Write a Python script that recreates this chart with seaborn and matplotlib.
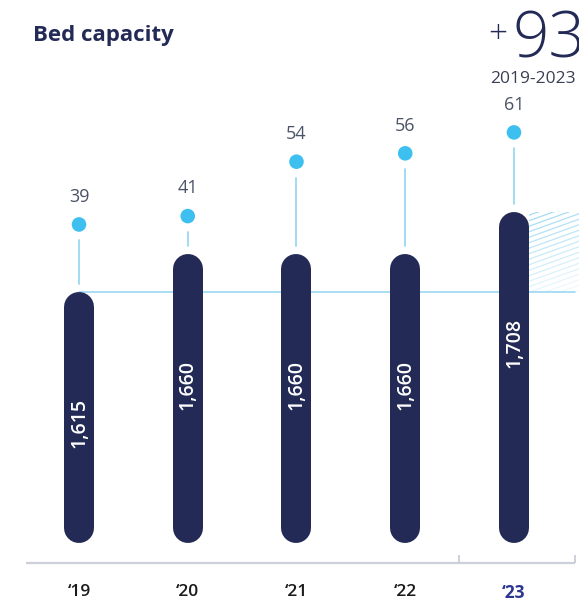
import numpy as np
import pandas as pd
import matplotlib
matplotlib.use("Agg")
import matplotlib.pyplot as plt
import seaborn as sns
from matplotlib.patches import Rectangle

# data
years = ["\u201819", "\u201820", "\u201821", "\u201822", "\u201823"]
beds = [1615, 1660, 1660, 1660, 1708]
growth = [39, 41, 54, 56, 61]
beds_label = ["1,615", "1,660", "1,660", "1,660", "1,708"]

NAVY = "#232a55"
BLUE = "#3dbfef"
LIGHT = "#9ad8f2"

sns.set_theme(style="white")
plt.rcParams["font.family"] = ["Open Sans", "DejaVu Sans"]

W, H = 579, 605
fig = plt.figure(figsize=(W / 100, H / 100), dpi=100)
ax = fig.add_axes([23 / W, (H - 563) / H, 556 / W, 563 / H])

df = pd.DataFrame({"year": years, "beds": beds, "growth": growth})
base = 1323
sns.barplot(data=df, x="year", y=np.array(beds) - base, bottom=base, ax=ax,
            color=NAVY, width=0.276, saturation=1, order=years)

ax.set_xlim(-0.515, 4.598)
ax.set_ylim(1300, 1955)

# turn the bars into pills (round caps)
px_x = 108.75
px_y = 563 / (1955 - 1300)
r = 15 / px_y
for p in list(ax.patches):
    xc = p.get_x() + p.get_width() / 2
    y0, y1 = p.get_y(), p.get_y() + p.get_height()
    p.remove()
    ax.plot([xc, xc], [y0 + r, y1 - r], color=NAVY, lw=30 * 0.72,
            solid_capstyle="round", zorder=3)

# values inside bars
for i, (v, lab) in enumerate(zip(beds, beds_label)):
    ax.text(i, v - 106 / px_y, lab, rotation=90, ha="center", va="top",
            color="white", fontsize=14, fontweight="semibold", zorder=4)

# reference line and hatched area
ax.plot([0, 4.565], [beds[0], beds[0]], color=LIGHT, lw=1.2, zorder=1,
        solid_capstyle="round")
hx0, hx1 = 4 + 15 / px_x, 4.598
clip = Rectangle((hx0, beds[0]), hx1 - hx0, beds[4] - beds[0],
                 facecolor="none", edgecolor="none", transform=ax.transData)
ax.add_patch(clip)
span_px = (hx1 - hx0) * px_x
for k in range(-12, 20):
    ya = beds[0] + k * 5.5 / px_y
    yb = ya + span_px * 0.36 / px_y
    mid = (ya + yb) / 2
    frac = np.clip((mid - beds[0]) / (beds[4] - beds[0]), 0, 1)
    ln, = ax.plot([hx0, hx1], [ya, yb], color=LIGHT, lw=0.9,
                  alpha=0.15 + 0.75 * frac, zorder=1)
    ln.set_clip_path(clip)

# growth dots on a second scale
ax2 = ax.twinx()
ax2.set_ylim(-41.9, 92.64)
sns.scatterplot(x=np.arange(5), y=growth, ax=ax2, color=BLUE, s=110,
                edgecolor="none", zorder=5)
for i, g in enumerate(growth):
    ax2.annotate(str(g), (i, g), xytext=(0, 20), textcoords="offset points",
                 ha="center", va="center", fontsize=13, color="#4b5366")
    # stem between dot and bar top
    top_disp = ax.transData.transform((i, beds[i]))
    dot_disp = ax2.transData.transform((i, g))
    y_hi = dot_disp[1] - 16
    y_lo = top_disp[1] + 8
    if y_hi > y_lo:
        inv = ax2.transData.inverted()
        ax2.plot([i, i], [inv.transform((0, y_lo))[1], inv.transform((0, y_hi))[1]],
                 color=LIGHT, lw=1.3, zorder=2)
ax2.set_xlim(-0.515, 4.598)
ax2.set_yticks([])
ax2.set_ylabel("")

# axis styling
for a in (ax, ax2):
    for s in ("top", "right", "left", "bottom"):
        a.spines[s].set_visible(False)
ax.plot([-0.49, 4.56], [1300, 1300], color="#ccd0da", lw=1.6, clip_on=False,
        solid_capstyle="butt")
ax.vlines([3.495, 4.56], 1300, 1300 + 8 / px_y, color="#ccd0da", lw=1.4)
ax.set_yticks([])
ax.set_ylabel("")
ax.set_xlabel("")
ax.set_xticks(range(5))
ax.set_xticklabels(years, fontsize=12.5, fontweight="semibold", color="#1a1a1a")
ax.tick_params(axis="x", length=0, pad=15)
ax.get_xticklabels()[4].set_color("#2b3590")
ax.get_xticklabels()[4].set_fontweight("bold")

# headings
fig.text(33 / W, 1 - 35 / H, "Bed capacity", fontsize=16, fontweight="bold",
         color=NAVY, ha="left", va="center")
fig.text(498 / W, 1 - 34 / H, "+", fontsize=24, fontweight="light",
         color=NAVY, ha="center", va="center")
fig.text(512 / W, 1 - 57 / H, "93", fontsize=46, fontweight="light",
         color=NAVY, ha="left", va="baseline")
fig.text(490 / W, 1 - 79 / H, "2019-2023", fontsize=12.5, color="#3a3f55",
         ha="left", va="center")

fig.savefig("out.png", dpi=100)
